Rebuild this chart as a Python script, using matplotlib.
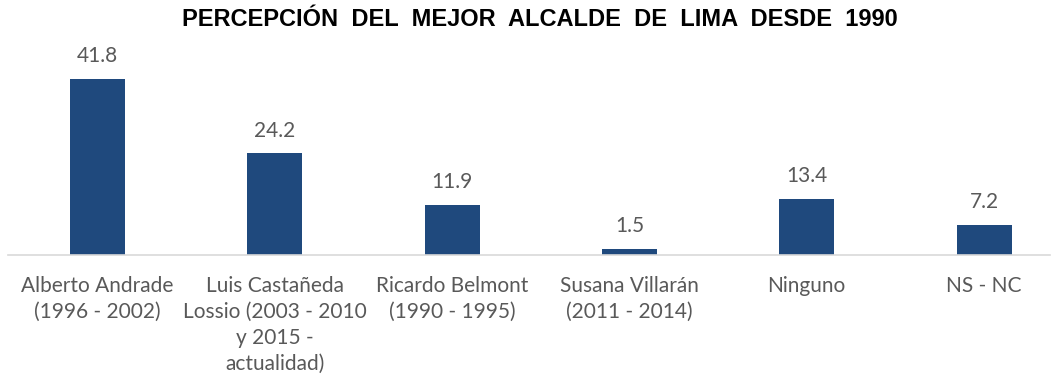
import matplotlib
matplotlib.use("Agg")
import matplotlib.pyplot as plt

categories = [
    "Alberto Andrade\n(1996 - 2002)",
    "Luis Castañeda\nLossio (2003 - 2010\ny 2015 -\nactualidad)",
    "Ricardo Belmont\n(1990 - 1995)",
    "Susana Villarán\n(2011 - 2014)",
    "Ninguno",
    "NS - NC",
]
values = [41.8, 24.2, 11.9, 1.5, 13.4, 7.2]
value_labels = ["41.8", "24.2", "11.9", "1.5", "13.4", "7.2"]
title = "PERCEPCIÓN  DEL  MEJOR  ALCALDE  DE  LIMA  DESDE  1990"

BAR = "#1F497D"
TXT = "#595959"

fig = plt.figure(figsize=(10.61, 3.80), dpi=100)
ax = fig.add_axes([8 / 1061, 125 / 380, 1042 / 1061, 195 / 380])

x = range(len(values))
bars = ax.bar(x, values, width=0.31, color=BAR)
for b, lab in zip(bars, value_labels):
    ax.annotate(lab, (b.get_x() + b.get_width() / 2, b.get_height()),
                xytext=(0, 9), textcoords="offset points",
                ha="center", va="bottom", fontsize=15, color=TXT,
                family="Lato")

ax.set_xlim(-0.505, 5.372)
ax.set_ylim(0, 46.3)
ax.set_xticks(list(x))
ax.set_xticklabels(categories, fontsize=15, color=TXT, family="Lato",
                   linespacing=1.38, va="top")
ax.tick_params(axis="x", length=0, pad=15)
ax.set_yticks([])
for s in ["top", "right", "left"]:
    ax.spines[s].set_visible(False)
ax.spines["bottom"].set_color("#D9D9D9")
ax.spines["bottom"].set_linewidth(1.2)

fig.text(540 / 1061, 1 - 20 / 380, title,
         ha="center", va="center", fontsize=17, fontweight="bold",
         family="Liberation Sans", color="black")

fig.savefig("out.png", dpi=100)
